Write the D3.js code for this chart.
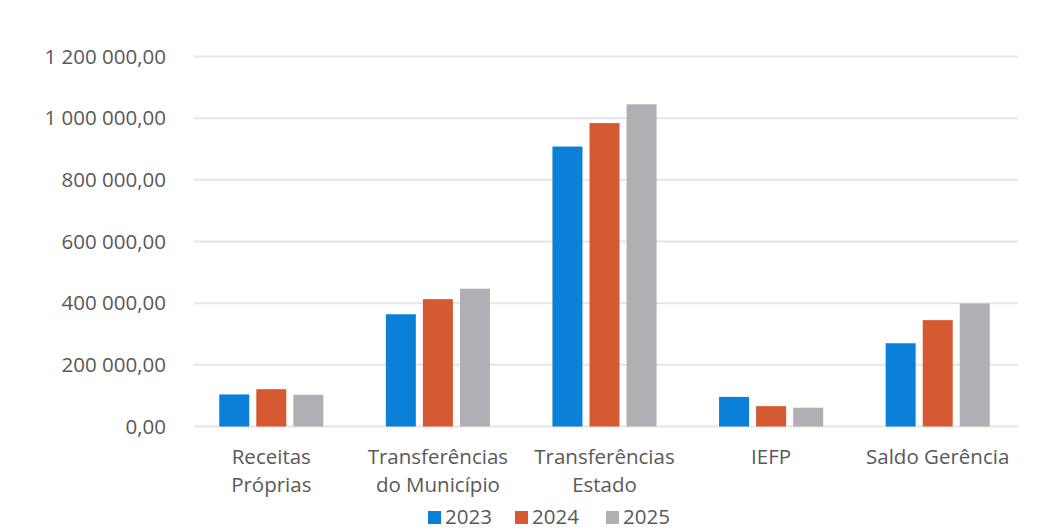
<!DOCTYPE html>
<html>
<head>
<meta charset="utf-8">
<script src="https://cdnjs.cloudflare.com/ajax/libs/d3/7.8.5/d3.min.js"></script>
<style>
  body { margin: 0; background: #fff; }
  text { font-family: "Open Sans", sans-serif; font-size: 20.5px; fill: #595959; }
</style>
</head>
<body>
<div id="chart"></div>
<script>
  // dados
  var categories = ["Receitas Próprias", "Transferências do Município", "Transferências Estado", "IEFP", "Saldo Gerência"];
  var categoryLines = [["Receitas", "Próprias"], ["Transferências", "do Município"], ["Transferências", "Estado"], ["IEFP"], ["Saldo Gerência"]];
  var years = ["2023", "2024", "2025"];
  var values2023 = [104000, 364000, 908000, 96000, 270000];
  var values2024 = [121000, 413000, 984000, 66000, 345000];
  var values2025 = [103000, 447000, 1045000, 61000, 399000];
  var yTicks = [0, 200000, 400000, 600000, 800000, 1000000, 1200000];
  var colors = ["#0b80d9", "#d65a31", "#b0afb4"];

  var width = 1050, height = 532;
  var series = [values2023, values2024, values2025];

  var locale = d3.formatLocale({decimal: ",", thousands: " ", grouping: [3], currency: ["", ""]});
  var fmt = locale.format(",.2f");

  var svg = d3.select("#chart").append("svg")
      .attr("width", width)
      .attr("height", height);

  var x0 = d3.scaleBand()
      .domain(categories)
      .range([188, 1021])
      .paddingInner(0.375)
      .paddingOuter(0.1875);

  var x1 = d3.scaleBand()
      .domain(years)
      .range([0, x0.bandwidth()])
      .paddingInner(0.19);

  var y = d3.scaleLinear()
      .domain([0, 1200000])
      .range([426.5, 56.5]);

  // grelha
  svg.append("g").selectAll("line")
      .data(yTicks)
      .enter().append("line")
      .attr("x1", 194)
      .attr("x2", 1018)
      .attr("y1", function(d) { return y(d); })
      .attr("y2", function(d) { return y(d); })
      .style("stroke", "#e6e6e6")
      .style("stroke-width", 2);

  svg.append("g").selectAll("text")
      .data(yTicks)
      .enter().append("text")
      .attr("x", 166)
      .attr("y", function(d) { return y(d); })
      .attr("dy", "0.35em")
      .attr("text-anchor", "end")
      .text(function(d) { return fmt(d); });

  // barras
  var group = svg.append("g").selectAll("g")
      .data(categories)
      .enter().append("g")
      .attr("transform", function(d) { return "translate(" + x0(d) + ",0)"; });

  group.selectAll("rect")
      .data(function(d, i) { return years.map(function(yr, j) { return {year: yr, value: series[j][i], j: j}; }); })
      .enter().append("rect")
      .attr("x", function(d) { return x1(d.year); })
      .attr("width", x1.bandwidth())
      .attr("y", function(d) { return y(d.value); })
      .attr("height", function(d) { return y(0) - y(d.value); })
      .style("fill", function(d) { return colors[d.j]; });

  // rótulos das categorias
  var labels = svg.append("g").selectAll("text")
      .data(categories)
      .enter().append("text")
      .attr("text-anchor", "middle")
      .attr("x", function(d) { return x0(d) + x0.bandwidth() / 2; })
      .attr("y", 464);

  labels.selectAll("tspan")
      .data(function(d, i) { return categoryLines[i]; })
      .enter().append("tspan")
      .attr("x", function() { return d3.select(this.parentNode).attr("x"); })
      .attr("dy", function(d, i) { return i === 0 ? 0 : 28; })
      .text(function(d) { return d; });

  // legenda
  var legendX = [428, 515, 606];
  var legend = svg.append("g").selectAll("g")
      .data(years)
      .enter().append("g")
      .attr("transform", function(d, i) { return "translate(" + legendX[i] + ",0)"; });

  legend.append("rect")
      .attr("y", 511)
      .attr("width", 13)
      .attr("height", 13)
      .style("fill", function(d, i) { return colors[i]; });

  legend.append("text")
      .attr("x", 17)
      .attr("y", 524)
      .text(function(d) { return d; });
</script>
</body>
</html>
